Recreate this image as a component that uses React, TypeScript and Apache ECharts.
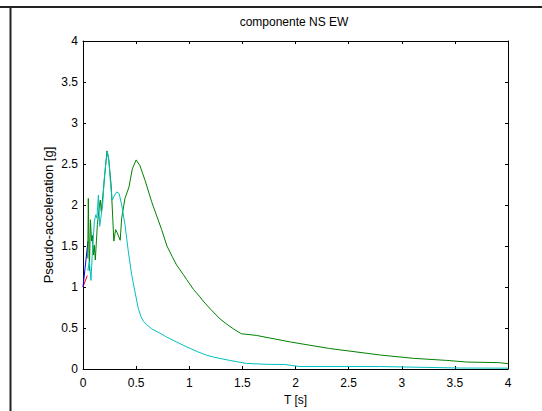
import React, { useEffect, useRef } from "react";
import * as echarts from "echarts";

const titleText = "componente NS EW";
const xName = "T [s]";
const yName = "Pseudo-acceleration [g]";

const redT = [0, 0.04];
const redA = [1.0, 1.14];
const blueT = [0, 0.047];
const blueA = [1.0, 1.56];

const greenT = [0.045, 0.05, 0.06, 0.07, 0.08, 0.088, 0.097, 0.106, 0.116, 0.135, 0.155, 0.163, 0.172, 0.19, 0.21, 0.226, 0.242, 0.265, 0.28, 0.29, 0.307, 0.322, 0.35, 0.364, 0.395, 0.433, 0.464, 0.5, 0.536, 0.584, 0.646, 0.69, 0.74, 0.79, 0.84, 0.88, 0.945, 0.976, 1.04, 1.1, 1.13, 1.2, 1.29, 1.35, 1.415, 1.49, 1.63, 1.95, 2.32, 2.8, 3.11, 3.42, 3.61, 3.92, 4.0];
const greenA = [1.35, 2.08, 1.2, 1.82, 1.56, 1.63, 1.39, 1.51, 1.33, 1.76, 2.0, 2.06, 1.92, 2.16, 2.44, 2.66, 2.56, 2.24, 1.84, 1.56, 1.7, 1.66, 1.57, 1.84, 2.08, 2.22, 2.44, 2.55, 2.48, 2.3, 2.04, 1.88, 1.7, 1.5, 1.37, 1.27, 1.15, 1.09, 0.97, 0.88, 0.83, 0.73, 0.61, 0.55, 0.49, 0.43, 0.41, 0.33, 0.25, 0.17, 0.13, 0.105, 0.085, 0.077, 0.065];

const cyanT = [0.045, 0.06, 0.075, 0.087, 0.107, 0.12, 0.13, 0.145, 0.157, 0.172, 0.185, 0.2, 0.215, 0.23, 0.245, 0.26, 0.275, 0.29, 0.317, 0.34, 0.364, 0.395, 0.427, 0.458, 0.5, 0.52, 0.545, 0.57, 0.6, 0.646, 0.72, 0.787, 0.88, 0.976, 1.08, 1.16, 1.23, 1.38, 1.54, 1.73, 1.9, 2.04, 2.8, 3.55, 4.0];
const cyanA = [1.2, 1.31, 1.08, 1.39, 1.8, 1.88, 1.84, 2.12, 1.74, 1.88, 2.0, 2.32, 2.52, 2.65, 2.52, 2.24, 2.06, 2.1, 2.16, 2.14, 2.0, 1.76, 1.43, 1.15, 0.87, 0.74, 0.64, 0.58, 0.54, 0.49, 0.44, 0.39, 0.33, 0.27, 0.21, 0.17, 0.145, 0.105, 0.068, 0.057, 0.055, 0.03, 0.03, 0.012, 0.01];

const pairs = (t: number[], a: number[]) => t.map((v, i) => [v, a[i]]);

const FONT = "Liberation Sans";

export default function App() {
  const ref = useRef<HTMLDivElement>(null);
  useEffect(() => {
    const chart = echarts.init(ref.current!, null, { renderer: "svg" });
    const axisCommon = {
      type: "value" as const,
      min: 0,
      max: 4,
      interval: 0.5,
      axisLine: { show: true, onZero: false, lineStyle: { color: "#000", width: 1 } },
      axisTick: { show: true, inside: true, length: 3, lineStyle: { color: "#000" } },
      splitLine: { show: false },
    };
    const line = (data: number[][], color: string, z: number) => ({
      type: "line" as const,
      data,
      showSymbol: false,
      symbol: "none",
      lineStyle: { color, width: 1 },
      z,
      xAxisIndex: 0,
      yAxisIndex: 0,
    });
    chart.setOption({
      animation: false,
      backgroundColor: "#fff",
      grid: { left: 83, right: 34, top: 41, bottom: 39, containLabel: false },
      xAxis: [
        {
          ...axisCommon,
          position: "bottom",
          name: xName,
          nameLocation: "middle",
          nameGap: 25,
          nameTextStyle: { fontFamily: FONT, fontSize: 12, color: "#000", verticalAlign: "top" },
          axisLabel: { show: true, fontFamily: FONT, fontSize: 12, color: "#000", margin: 8 },
        },
        {
          ...axisCommon,
          position: "top",
          axisLabel: { show: false },
        },
      ],
      yAxis: [
        {
          ...axisCommon,
          position: "left",
          axisLabel: { show: true, fontFamily: FONT, fontSize: 12, color: "#000", margin: 5 },
        },
        {
          ...axisCommon,
          position: "right",
          axisLabel: { show: false },
        },
      ],
      graphic: [
        { type: "line", shape: { x1: 0, y1: 7, x2: 542, y2: 7 }, style: { stroke: "#222", lineWidth: 2 } },
        { type: "line", shape: { x1: 10.5, y1: 6, x2: 10.5, y2: 411 }, style: { stroke: "#222", lineWidth: 2 } },
        {
          type: "text",
          x: 294,
          y: 22,
          style: { text: titleText, font: `12px "${FONT}"`, fill: "#000", align: "center", verticalAlign: "middle" },
        },
        {
          type: "text",
          x: 48,
          y: 215,
          rotation: Math.PI / 2,
          style: { text: yName, font: `13px "${FONT}"`, fill: "#000", align: "center", verticalAlign: "middle" },
        },
      ],
      series: [
        line(pairs(redT, redA), "#ff0000", 2),
        line(pairs(blueT, blueA), "#0000ff", 3),
        line(pairs(greenT, greenA), "#008000", 4),
        line(pairs(cyanT, cyanA), "#00bfbf", 5),
      ],
    });
    return () => chart.dispose();
  }, []);
  return <div ref={ref} style={{ position: "fixed", left: 0, top: 0, width: 542, height: 411 }} />;
}
